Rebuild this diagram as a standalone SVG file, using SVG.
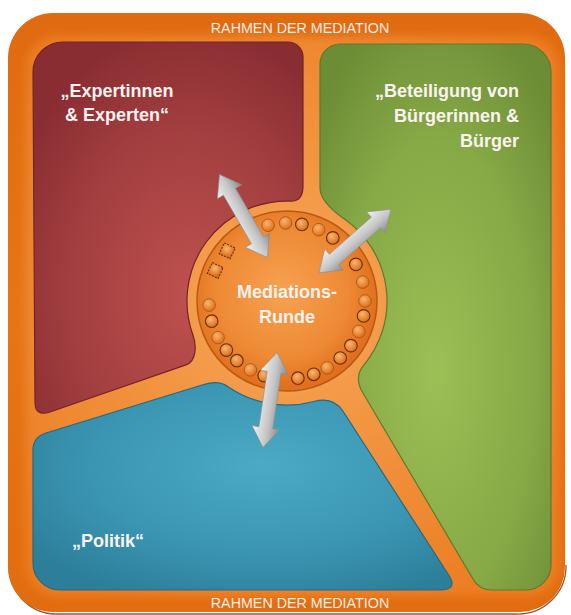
<svg xmlns="http://www.w3.org/2000/svg" width="571" height="615" viewBox="0 0 571 615">
<defs>
<style>
.lbl{font-family:"Liberation Sans",Arial,sans-serif;font-weight:bold;font-size:18px;fill:#FBF3F1}
.frame{font-family:"Liberation Sans",Arial,sans-serif;font-size:14.3px;fill:#FCEDE6;text-anchor:middle}
.dot{fill:url(#gDot);stroke:#A8520E;stroke-width:0.8}
.dotd{fill:url(#gDot);stroke:#6A3008;stroke-width:1.1}
.arr{fill:url(#gArrow);stroke:#8C8C8C;stroke-width:0.6}
</style>
<radialGradient id="gInner" gradientUnits="userSpaceOnUse" cx="287" cy="301" r="340">
<stop offset="0" stop-color="#F7A85C"/>
<stop offset="0.45" stop-color="#F29440"/>
<stop offset="1" stop-color="#EC7E24"/>
</radialGradient>
<linearGradient id="gFrame" x1="0" y1="0" x2="0" y2="1">
<stop offset="0" stop-color="#E06A10"/>
<stop offset="0.5" stop-color="#E77516"/>
<stop offset="1" stop-color="#E26C10"/>
</linearGradient>
<filter id="soft" x="-5%" y="-5%" width="110%" height="110%"><feGaussianBlur stdDeviation="5"/></filter>
<radialGradient id="gRed" cx="0.58" cy="0.68" r="0.72">
<stop offset="0" stop-color="#BE514E"/>
<stop offset="0.6" stop-color="#A33F40"/>
<stop offset="1" stop-color="#8A2D32"/>
</radialGradient>
<radialGradient id="gGreen" cx="0.5" cy="0.6" r="0.7">
<stop offset="0" stop-color="#9CBF56"/>
<stop offset="0.6" stop-color="#87A946"/>
<stop offset="1" stop-color="#6C8C35"/>
</radialGradient>
<radialGradient id="gBlue" cx="0.55" cy="0.4" r="0.7">
<stop offset="0" stop-color="#4BAAC6"/>
<stop offset="0.6" stop-color="#3A95B2"/>
<stop offset="1" stop-color="#2C7E9A"/>
</radialGradient>
<radialGradient id="gDisc" gradientUnits="userSpaceOnUse" cx="282" cy="292" r="95">
<stop offset="0" stop-color="#F6A252"/>
<stop offset="0.7" stop-color="#EE8934"/>
<stop offset="1" stop-color="#E0701E"/>
</radialGradient>
<radialGradient id="gDot" cx="0.4" cy="0.35" r="0.7">
<stop offset="0" stop-color="#FBB56C"/>
<stop offset="1" stop-color="#D96A18"/>
</radialGradient>
<linearGradient id="gArrow" x1="0" y1="0" x2="0" y2="1">
<stop offset="0" stop-color="#F2F2F2"/>
<stop offset="0.55" stop-color="#C6C6C6"/>
<stop offset="1" stop-color="#8A8A8A"/>
</linearGradient>
<polygon id="arrow" points="-48,0 -28,-14 -28,-7 28,-7 28,-14 48,0 28,14 28,7 -28,7 -28,14"/>
</defs>

<g id="rahmen">
<path d="M 9 562 A 48 48 0 0 0 56 614 L 516 614 A 48 48 0 0 0 566 565" fill="none" stroke="#8B5A3C" stroke-width="1.3"/>
<rect x="8" y="13" width="557" height="599" rx="45" ry="45" fill="url(#gFrame)"/>
<rect x="26" y="36" width="533" height="560" rx="32" ry="32" fill="url(#gInner)" filter="url(#soft)"/>
<text class="frame" x="300" y="33">RAHMEN DER MEDIATION</text>
<text class="frame" x="300" y="608">RAHMEN DER MEDIATION</text>
</g>

<g id="experten">
<path d="M 33 72 A 30 30 0 0 1 63 42 L 288 42 A 15 15 0 0 1 303 57 L 303 186 Q 303 201.5 290.5 201.1 A 100 100 0 0 0 193 335.2 C 196.4 344.6 197 361 186 364.9 L 50 412 Q 35 417 35 402 Z" fill="url(#gRed)" stroke="#74232A" stroke-width="1.2"/>
<text class="lbl" text-anchor="middle" x="117" y="97">„Expertinnen</text>
<text class="lbl" text-anchor="middle" x="117" y="121">&amp; Experten“</text>
</g>

<g id="buerger">
<path d="M 320 64 A 20 20 0 0 1 340 44 L 523 44 A 28 28 0 0 1 551 72 L 551 565 A 25 25 0 0 1 526 590 L 492 590 Q 479 590 473 579 L 362.8 392.8 Q 353.6 377.3 363.6 365.3 A 100 100 0 0 0 344.4 219.1 Q 320 202 320 188 Z" fill="url(#gGreen)" stroke="#5E7A2C" stroke-width="1.2"/>
<text class="lbl" text-anchor="end" x="519" y="97">„Beteiligung von</text>
<text class="lbl" text-anchor="end" x="519" y="122">Bürgerinnen &amp;</text>
<text class="lbl" text-anchor="end" x="519" y="147">Bürger</text>
</g>

<g id="politik">
<path d="M 46 433 L 203.7 384.5 Q 218.5 380 227.3 386.2 A 104 104 0 0 0 313.9 401.5 Q 333.4 396.3 343 411.2 L 448.7 575 Q 458.4 590 440 590 L 60 590 A 27 27 0 0 1 33 563 L 33 450 Q 33 437 46 433 Z" fill="url(#gBlue)" stroke="#246A82" stroke-width="1.2"/>
<text class="lbl" x="72" y="547">„Politik“</text>
</g>

<g id="mediationsrunde">
<circle cx="287" cy="301" r="90" fill="url(#gDisc)" stroke="#B85A10" stroke-width="1.5"/>
<g>
<circle class="dot" cx="268.1" cy="225.3" r="6.3"/>
<circle class="dot" cx="285.6" cy="223" r="6.3"/>
<circle class="dotd" cx="301.9" cy="224.4" r="6.3"/>
<circle class="dot" cx="318.7" cy="229.7" r="6.3"/>
<circle class="dotd" cx="332.8" cy="237.9" r="6.3"/>
<circle class="dotd" cx="355.9" cy="264.4" r="6.3"/>
<circle class="dot" cx="362.7" cy="282.1" r="6.3"/>
<circle class="dot" cx="365" cy="301" r="6.3"/>
<circle class="dotd" cx="363.6" cy="315.9" r="6.3"/>
<circle class="dot" cx="358.8" cy="331.5" r="6.3"/>
<circle class="dotd" cx="350.9" cy="345.7" r="6.3"/>
<circle class="dotd" cx="340.2" cy="358" r="6.3"/>
<circle class="dot" cx="327.2" cy="367.9" r="6.3"/>
<circle class="dotd" cx="313.7" cy="374.3" r="6.3"/>
<circle class="dotd" cx="297.9" cy="378.2" r="6.3"/>
<circle class="dotd" cx="264.2" cy="375.6" r="6.3"/>
<circle class="dot" cx="250.4" cy="369.9" r="6.3"/>
<circle class="dotd" cx="236.9" cy="360.7" r="6.3"/>
<circle class="dotd" cx="226.4" cy="350.1" r="6.3"/>
<circle class="dot" cx="218.1" cy="337.6" r="6.3"/>
<circle class="dotd" cx="211.7" cy="321.2" r="6.3"/>
<circle class="dot" cx="209.1" cy="305.1" r="6.3"/>
<rect class="dotd" x="-6" y="-6" width="12" height="12" stroke-dasharray="2 1.2" transform="translate(215.2,270.5) rotate(25)"/>
<rect class="dotd" x="-6" y="-6" width="12" height="12" stroke-dasharray="2 1.2" transform="translate(227.2,250.9) rotate(25)"/>
</g>
<text class="lbl" text-anchor="middle" x="287" y="298">Mediations-</text>
<text class="lbl" text-anchor="middle" x="287" y="323">Runde</text>
</g>

<g id="connectors">
<use href="#arrow" class="arr" transform="translate(243.5,216) rotate(240)"/>
<use href="#arrow" class="arr" transform="translate(355,241) rotate(-41.5)"/>
<use href="#arrow" class="arr" transform="translate(270,400) rotate(278.5)"/>
</g>
</svg>
